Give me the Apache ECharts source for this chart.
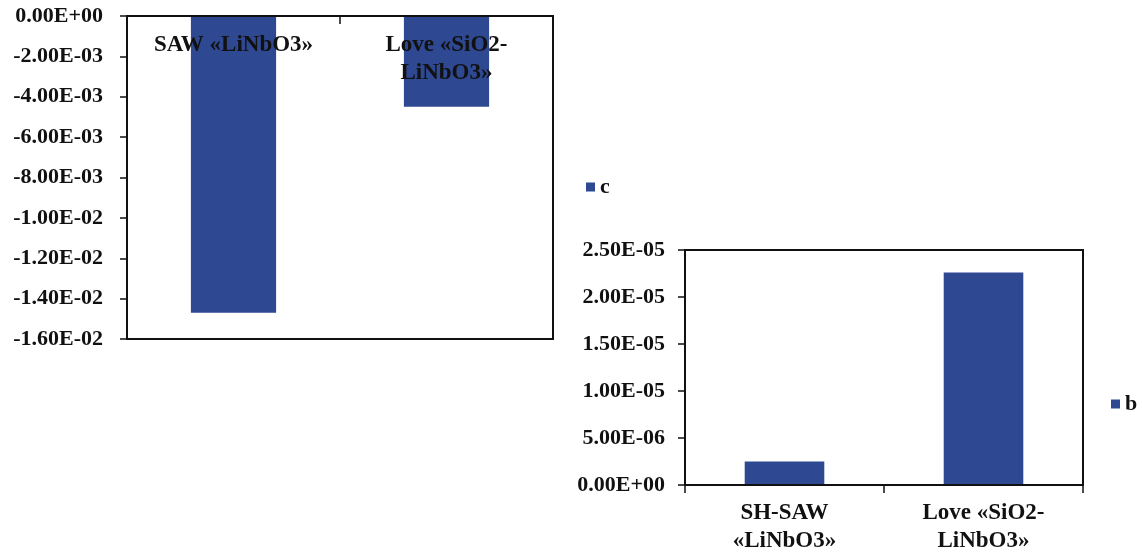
<!DOCTYPE html>
<html>
<head>
<meta charset="utf-8">
<title>Bar charts c and b</title>
<script src="https://cdn.jsdelivr.net/npm/echarts@6/dist/echarts.min.js"></script>
<style>
  html, body { margin: 0; padding: 0; background: #ffffff; }
  #chart { width: 1142px; height: 555px; }
</style>
</head>
<body>
<div id="chart"></div>
<script>
// Categories and values for the two panels
const categoriesC = ['SAW «LiNbO3»', 'Love «SiO2-\nLiNbO3»'];
const valuesC = [-0.0147, -0.0045];

const categoriesB = ['SH-SAW\n«LiNbO3»', 'Love «SiO2-\nLiNbO3»'];
const valuesB = [2.5e-6, 2.26e-5];

// Axis ranges (Excel-like scientific tick labels)
const rangeC = { min: -0.016, max: 0, interval: 0.002 };
const rangeB = { min: 0, max: 2.5e-5, interval: 5e-6 };

const FONT = "'Liberation Serif', 'Times New Roman', serif";
const BAR_COLOR = '#2e4892';
const INK = '#111111';

// 0.00E+00 style formatting
function sci(v) {
  if (Math.abs(v) < 1e-15) return '0.00E+00';
  const s = v.toExponential(2);
  const [m, e] = s.split('e');
  const n = parseInt(e, 10);
  const sign = n < 0 ? '-' : '+';
  const digits = String(Math.abs(n)).padStart(2, '0');
  return m + 'E' + sign + digits;
}

const axisLine = { show: true, lineStyle: { color: INK, width: 2 } };
const tickStyle = { color: INK, width: 1.5 };
const valueFont = { fontFamily: FONT, fontWeight: 'bold', fontSize: 22, color: INK };
const catFont = { fontFamily: FONT, fontWeight: 'bold', fontSize: 23, color: INK };

const chart = echarts.init(document.getElementById('chart'));
chart.setOption({
  animation: false,
  backgroundColor: '#ffffff',
  grid: [
    { left: 127, top: 16, width: 426, height: 323, show: true, borderColor: INK, borderWidth: 2, containLabel: false },
    { left: 685, top: 250, width: 398, height: 239, show: true, borderColor: INK, borderWidth: 2, containLabel: false }
  ],
  legend: [
    {
      data: ['c'], left: 581, top: 171, itemWidth: 9, itemHeight: 9, icon: 'rect',
      textStyle: { fontFamily: FONT, fontWeight: 'bold', fontSize: 22, color: INK }
    },
    {
      data: ['b'], left: 1106, top: 388, itemWidth: 9, itemHeight: 9, icon: 'rect',
      textStyle: { fontFamily: FONT, fontWeight: 'bold', fontSize: 22, color: INK }
    }
  ],
  xAxis: [
    {
      type: 'category', gridIndex: 0, position: 'top', data: categoriesC, z: 5,
      axisLine: axisLine,
      axisTick: { show: true, inside: true, length: 8, lineStyle: tickStyle },
      axisLabel: Object.assign({ inside: true, margin: 15, lineHeight: 28, interval: 0 }, catFont),
      splitLine: { show: false }
    },
    {
      type: 'category', gridIndex: 1, position: 'bottom', data: categoriesB, z: 5,
      axisLine: axisLine,
      axisTick: { show: true, length: 8, lineStyle: tickStyle },
      axisLabel: Object.assign({ margin: 14, lineHeight: 28, interval: 0 }, catFont),
      splitLine: { show: false }
    }
  ],
  yAxis: [
    {
      type: 'value', gridIndex: 0, min: rangeC.min, max: rangeC.max, interval: rangeC.interval,
      axisLine: axisLine,
      axisTick: { show: true, length: 7, lineStyle: tickStyle },
      axisLabel: Object.assign({ margin: 24, formatter: sci }, valueFont),
      splitLine: { show: false }
    },
    {
      type: 'value', gridIndex: 1, min: rangeB.min, max: rangeB.max, interval: rangeB.interval,
      axisLine: axisLine,
      axisTick: { show: true, length: 7, lineStyle: tickStyle },
      axisLabel: Object.assign({ margin: 20, formatter: sci }, valueFont),
      splitLine: { show: false }
    }
  ],
  series: [
    {
      name: 'c', type: 'bar', xAxisIndex: 0, yAxisIndex: 0, data: valuesC,
      barWidth: '40%', itemStyle: { color: BAR_COLOR }
    },
    {
      name: 'b', type: 'bar', xAxisIndex: 1, yAxisIndex: 1, data: valuesB,
      barWidth: '40%', itemStyle: { color: BAR_COLOR }
    }
  ]
});
</script>
</body>
</html>
